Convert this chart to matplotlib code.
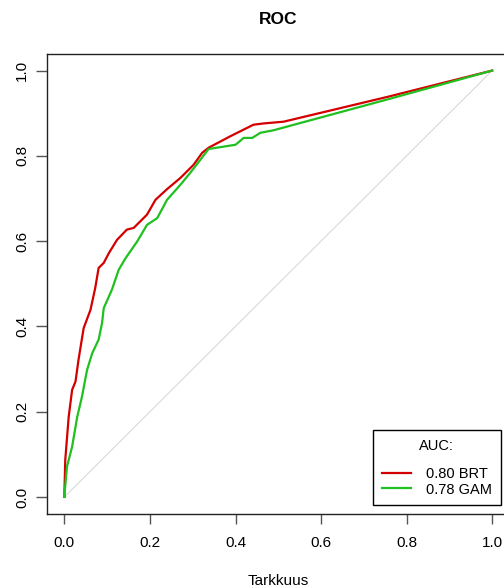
import numpy as np
import matplotlib.pyplot as plt

plt.rcParams['font.family'] = ['Liberation Sans', 'DejaVu Sans']

# ROC curve points (false positive rate, true positive rate)
brt_fpr = [0.0, 0.0, 0.002, 0.010, 0.018, 0.026, 0.033, 0.045, 0.061, 0.072, 0.080,
           0.092, 0.104, 0.123, 0.146, 0.162, 0.193, 0.213, 0.240, 0.271, 0.302,
           0.322, 0.337, 0.388, 0.442, 0.466, 0.512, 0.754, 1.0]
brt_tpr = [0.0, 0.009, 0.087, 0.188, 0.251, 0.271, 0.322, 0.396, 0.439, 0.490, 0.537,
           0.549, 0.572, 0.603, 0.627, 0.631, 0.662, 0.697, 0.722, 0.748, 0.779,
           0.807, 0.819, 0.846, 0.873, 0.876, 0.880, 0.938, 1.0]

gam_fpr = [0.0, 0.0, 0.006, 0.018, 0.030, 0.041, 0.053, 0.065, 0.080, 0.088, 0.092,
           0.111, 0.127, 0.143, 0.170, 0.193, 0.217, 0.240, 0.271, 0.294, 0.318,
           0.337, 0.400, 0.419, 0.439, 0.458, 0.489, 0.754, 1.0]
gam_tpr = [0.0, 0.005, 0.071, 0.118, 0.188, 0.235, 0.298, 0.337, 0.369, 0.408, 0.443,
           0.486, 0.533, 0.560, 0.599, 0.638, 0.654, 0.697, 0.732, 0.760, 0.791,
           0.816, 0.826, 0.842, 0.842, 0.854, 0.860, 0.932, 1.0]

auc_labels = ['0.80 BRT', '0.78 GAM']
ticks = [0.0, 0.2, 0.4, 0.6, 0.8, 1.0]

fig = plt.figure(figsize=(5.04, 5.88), dpi=100)
ax = fig.add_axes([47.3 / 504, 74 / 588, 462 / 504, 460.5 / 588])

ax.plot([0, 1], [0, 1], color='#d9d9d9', lw=0.8)
ax.plot(brt_fpr, brt_tpr, color='#d40000', lw=1.6, label=auc_labels[0])
ax.plot(gam_fpr, gam_tpr, color='#1fc01f', lw=1.6, label=auc_labels[1])

ax.set_xlim(-0.04, 1.04)
ax.set_ylim(-0.04, 1.04)
ax.set_xticks(ticks)
ax.set_yticks(ticks)
ax.set_xticklabels(['%.1f' % t for t in ticks], fontsize=11)
ax.set_yticklabels(['%.1f' % t for t in ticks], fontsize=11, rotation=90, va='center')
ax.tick_params(axis='x', length=7, width=1, color='#555555', pad=9)
ax.tick_params(axis='y', length=8, width=1, color='#555555', pad=5)
for s in ax.spines.values():
    s.set_linewidth(1)
    s.set_color('#222222')

ax.set_xlabel('Tarkkuus', fontsize=11, labelpad=17)
ax.set_title('ROC', fontsize=12.5, fontweight='bold', pad=21)

leg = ax.legend(title='AUC:', loc='lower right', bbox_to_anchor=(0.981, 0.019),
                fontsize=10.5, title_fontsize=10.5, fancybox=False, framealpha=1,
                edgecolor='black', handlelength=2.0, handletextpad=1.0,
                labelspacing=0.1, borderpad=0.6, borderaxespad=0)
leg.get_frame().set_linewidth(1)
# extra room between the legend title and its entries
leg._legend_box.sep = 10

fig.savefig('out.png', dpi=100)
